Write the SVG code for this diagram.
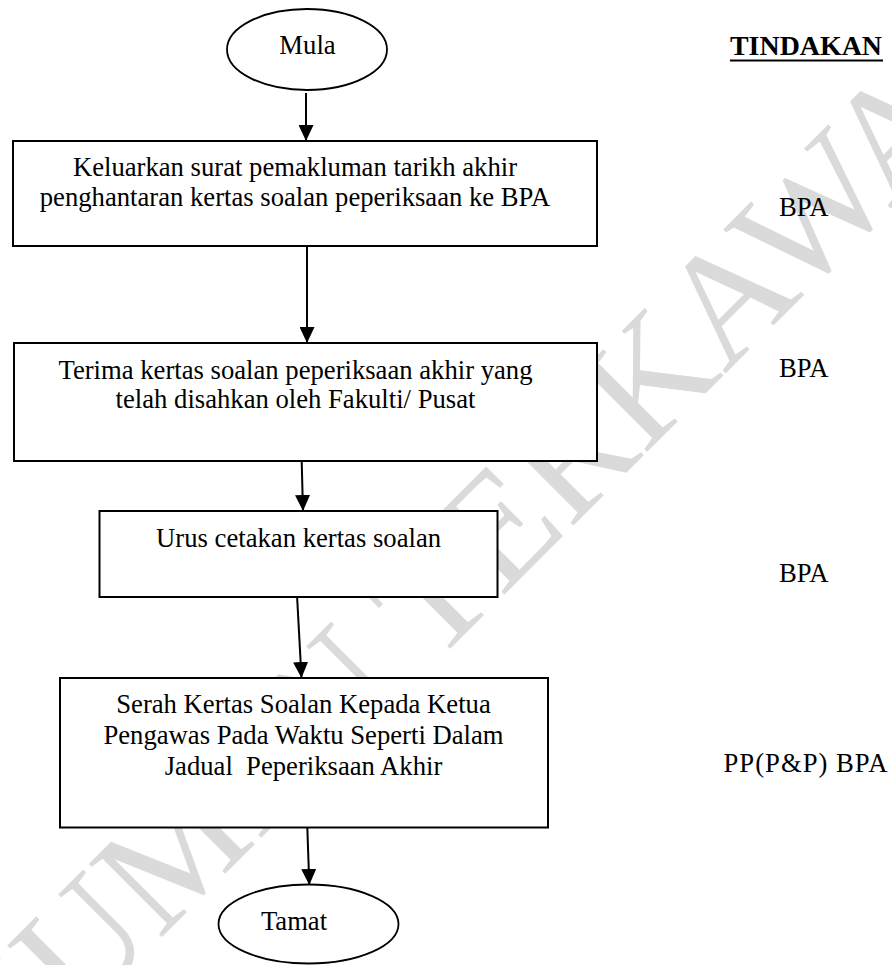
<svg xmlns="http://www.w3.org/2000/svg" width="892" height="965" viewBox="0 0 892 965">
  <defs>
    <marker id="arrow" viewBox="0 0 16 15" refX="16" refY="7.5" markerWidth="16" markerHeight="15" markerUnits="userSpaceOnUse" orient="auto">
      <path d="M0,0 L16,7.5 L0,15 z" fill="#000"/>
    </marker>
    <style>
      .node { fill: #fff; stroke: #000; stroke-width: 2; }
      .term { fill: #fff; stroke: #000; stroke-width: 1.8; }
      .t { font-family: "Liberation Serif", "Times New Roman", serif; font-size: 26.67px; fill: #000; }
      .c { text-anchor: middle; }
      .edge { stroke: #000; stroke-width: 2; fill: none; marker-end: url(#arrow); }
      .wm { font-family: "Liberation Serif", "Times New Roman", serif; font-size: 158px; fill: #dadada; }
    </style>
  </defs>
  <rect width="892" height="965" fill="#fff"/>
  <text class="wm" transform="translate(-164,1263) rotate(-45)">DOKUMEN TERKAWAL</text>

  <g id="connectors">
    <line class="edge" x1="306" y1="93" x2="306" y2="141"/>
    <line class="edge" x1="307" y1="246" x2="307" y2="343"/>
    <line class="edge" x1="301.5" y1="454" x2="303" y2="511"/>
    <line class="edge" x1="297" y1="595" x2="301.5" y2="678"/>
    <line class="edge" x1="307.3" y1="827" x2="309.3" y2="885"/>
  </g>

  <g id="mula">
    <ellipse class="term" cx="307" cy="49.5" rx="80" ry="40.5"/>
    <text class="t c" x="307.5" y="54">Mula</text>
  </g>

  <g id="step1">
    <rect class="node" x="13" y="141" width="584" height="105"/>
    <text class="t c" x="295" y="176">Keluarkan surat pemakluman tarikh akhir</text>
    <text class="t c" x="295" y="206">penghantaran kertas soalan peperiksaan ke BPA</text>
  </g>

  <g id="step2">
    <rect class="node" x="14" y="343" width="583" height="118"/>
    <text class="t c" x="295.5" y="379">Terima kertas soalan peperiksaan akhir yang</text>
    <text class="t c" x="295.5" y="408">telah disahkan oleh Fakulti/ Pusat</text>
  </g>

  <g id="step3">
    <rect class="node" x="99.5" y="511" width="398" height="86"/>
    <text class="t c" x="298.6" y="547">Urus cetakan kertas soalan</text>
  </g>

  <g id="step4">
    <rect class="node" x="60" y="678" width="488" height="149.5"/>
    <text class="t c" x="303.5" y="712.5">Serah Kertas Soalan Kepada Ketua</text>
    <text class="t c" x="303.5" y="744">Pengawas Pada Waktu Seperti Dalam</text>
    <text class="t c" x="303.5" y="775" xml:space="preserve">Jadual  Peperiksaan Akhir</text>
  </g>

  <g id="tamat">
    <ellipse class="term" cx="308.5" cy="924" rx="90" ry="39.5"/>
    <text class="t c" x="294" y="930">Tamat</text>
  </g>

  <g id="tindakan">
    <text class="t" x="730" y="55" font-weight="bold" font-size="28px" textLength="152" lengthAdjust="spacingAndGlyphs">TINDAKAN</text>
    <line x1="730" y1="60.5" x2="883" y2="60.5" stroke="#000" stroke-width="2.2"/>
    <text class="t" x="779" y="216">BPA</text>
    <text class="t" x="779" y="377">BPA</text>
    <text class="t" x="779" y="582">BPA</text>
    <text class="t" x="723.5" y="772" textLength="164" lengthAdjust="spacing" xml:space="preserve">PP(P&amp;P) BPA</text>
  </g>
</svg>
